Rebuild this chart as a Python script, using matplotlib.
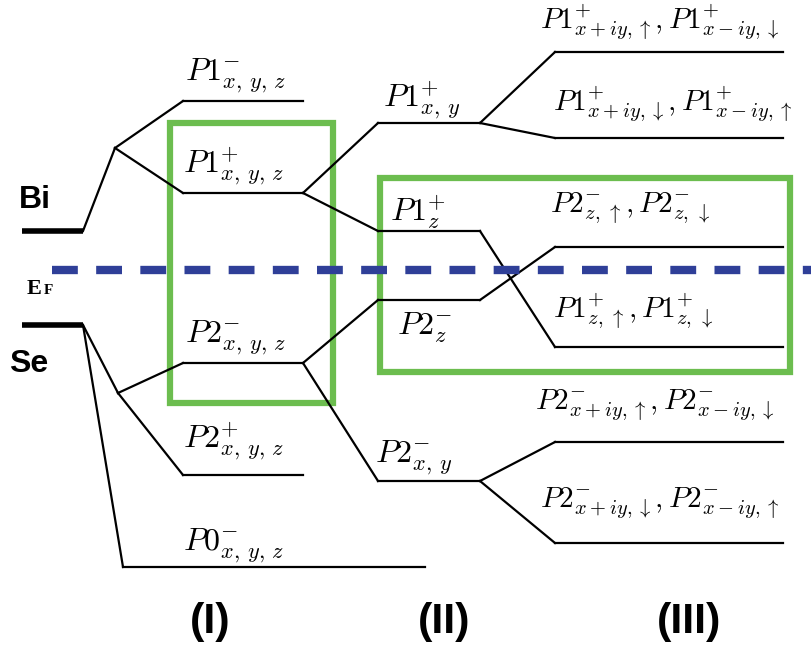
import matplotlib.pyplot as plt
from matplotlib.patches import Rectangle

plt.rcParams['mathtext.fontset'] = 'cm'

# atomic levels (energy runs downward in screen units)
atom_x = (22, 83)
bi_y = 231
se_y = 325

# column (I): crystal-field split levels
col1_x = (183, 303)
col1_names = ['P1m', 'P1p', 'P2m', 'P2p']
col1_y = [101, 193, 363, 475]
p0_x = (123, 425)
p0_y = 567

# column (II): after including the crystal field
col2_x = (378, 480)
col2_names = ['P1p_xy', 'P1p_z', 'P2m_z', 'P2m_xy']
col2_y = [123, 231, 300, 481]

# column (III): after spin-orbit coupling
col3_x = (555, 783)
col3_names = ['A', 'B', 'C', 'D', 'E', 'F']
col3_y = [52, 138, 247, 347, 442, 543]

# branch points between atomic levels and column (I)
bi_branch = (115, 148)
se_branch = (118, 393)

fermi_y = 270

labels_col1 = [r'$P1^{-}_{x,\,y,\,z}$', r'$P1^{+}_{x,\,y,\,z}$',
               r'$P2^{-}_{x,\,y,\,z}$', r'$P2^{+}_{x,\,y,\,z}$']
labels_col1_pos = [(185, 80), (183, 172), (185, 342), (183, 447)]
label_p0 = r'$P0^{-}_{x,\,y,\,z}$'
label_p0_pos = (183, 550)

labels_col2 = [r'$P1^{+}_{x,\,y}$', r'$P1^{+}_{z}$', r'$P2^{-}_{z}$', r'$P2^{-}_{x,\,y}$']
labels_col2_pos = [(383, 106), (390, 221), (397, 335), (375, 462)]

labels_col3 = [r'$P1^{+}_{x+iy,\uparrow}, P1^{+}_{x-iy,\downarrow}$',
               r'$P1^{+}_{x+iy,\downarrow}, P1^{+}_{x-iy,\uparrow}$',
               r'$P2^{-}_{z,\,\uparrow}, P2^{-}_{z,\,\downarrow}$',
               r'$P1^{+}_{z,\,\uparrow}, P1^{+}_{z,\,\downarrow}$',
               r'$P2^{-}_{x+iy,\uparrow}, P2^{-}_{x-iy,\downarrow}$',
               r'$P2^{-}_{x+iy,\downarrow}, P2^{-}_{x-iy,\uparrow}$']
labels_col3_pos = [(540, 29), (553, 111), (550, 213), (553, 318), (535, 410), (540, 508)]

# which column (II) level feeds each column (III) level
col2_to_col3 = [('P1p_xy', 'A'), ('P1p_xy', 'B'), ('P1p_z', 'D'),
                ('P2m_z', 'C'), ('P2m_xy', 'E'), ('P2m_xy', 'F')]
col1_to_col2 = [('P1p', 'P1p_xy'), ('P1p', 'P1p_z'),
                ('P2m', 'P2m_z'), ('P2m', 'P2m_xy')]

fig = plt.figure(figsize=(8.11, 6.48), dpi=100)
ax = fig.add_axes([0, 0, 1, 1])
ax.set_xlim(0, 811)
ax.set_ylim(648, 0)
ax.axis('off')

lc = 'black'
lw = 1.6

# Bi and Se atomic levels
ax.plot(atom_x, [bi_y, bi_y], color=lc, lw=4, solid_capstyle='butt')
ax.plot(atom_x, [se_y, se_y], color=lc, lw=4, solid_capstyle='butt')

y1 = dict(zip(col1_names, col1_y))
y2 = dict(zip(col2_names, col2_y))
y3 = dict(zip(col3_names, col3_y))

# column levels
for y in col1_y:
    ax.plot(col1_x, [y, y], color=lc, lw=lw)
ax.plot(p0_x, [p0_y, p0_y], color=lc, lw=lw)
for y in col2_y:
    ax.plot(col2_x, [y, y], color=lc, lw=lw)
for y in col3_y:
    ax.plot(col3_x, [y, y], color=lc, lw=lw)

# atomic -> column (I)
ax.plot([atom_x[1], bi_branch[0]], [bi_y, bi_branch[1]], color=lc, lw=lw)
for n in ['P1m', 'P1p']:
    ax.plot([bi_branch[0], col1_x[0]], [bi_branch[1], y1[n]], color=lc, lw=lw)
ax.plot([atom_x[1], se_branch[0]], [se_y, se_branch[1]], color=lc, lw=lw)
for n in ['P2m', 'P2p']:
    ax.plot([se_branch[0], col1_x[0]], [se_branch[1], y1[n]], color=lc, lw=lw)
ax.plot([atom_x[1], p0_x[0]], [se_y, p0_y], color=lc, lw=lw)

# column (I) -> (II) -> (III)
for a, b in col1_to_col2:
    ax.plot([col1_x[1], col2_x[0]], [y1[a], y2[b]], color=lc, lw=lw)
for a, b in col2_to_col3:
    ax.plot([col2_x[1], col3_x[0]], [y2[a], y3[b]], color=lc, lw=lw)

# Fermi level
ax.plot([52, 811], [fermi_y, fermi_y], color='#2f3f98', lw=6,
        dashes=(3.1, 2.2), solid_capstyle='butt')

# green boxes around the inverted states
green = '#6cbd4f'
ax.add_patch(Rectangle((170, 123), 163, 280, fill=False, ec=green, lw=4.5))
ax.add_patch(Rectangle((380, 178), 410, 194, fill=False, ec=green, lw=4.5))

fs_big = 23
fs_small = 21
for s, (x, y) in zip(labels_col1, labels_col1_pos):
    ax.text(x, y, s, fontsize=fs_big, va='baseline', ha='left')
ax.text(label_p0_pos[0], label_p0_pos[1], label_p0, fontsize=fs_big, va='baseline')
for s, (x, y) in zip(labels_col2, labels_col2_pos):
    ax.text(x, y, s, fontsize=fs_big, va='baseline', ha='left')
for s, (x, y) in zip(labels_col3, labels_col3_pos):
    ax.text(x, y, s, fontsize=fs_small, va='baseline', ha='left', clip_on=False)

sans = ['Liberation Sans', 'DejaVu Sans']
ax.text(19, 208, 'Bi', fontsize=23, fontweight='bold', family=sans, va='baseline')
ax.text(9, 372, 'Se', fontsize=23, fontweight='bold', family=sans, va='baseline')

serif = ['Liberation Serif', 'DejaVu Serif']
ax.text(27, 294, 'E', fontsize=16, fontweight='bold', family=serif, va='baseline')
ax.text(44, 294, 'F', fontsize=11, fontweight='bold', family=serif, va='baseline')

narrow = ['Liberation Sans Narrow', 'Liberation Sans', 'DejaVu Sans']
for s, x in zip(['(I)', '(II)', '(III)'], [210, 444, 689]):
    ax.text(x, 633, s, fontsize=31, fontweight='bold', family=narrow,
            ha='center', va='baseline')

fig.savefig('out.png', dpi=100)
